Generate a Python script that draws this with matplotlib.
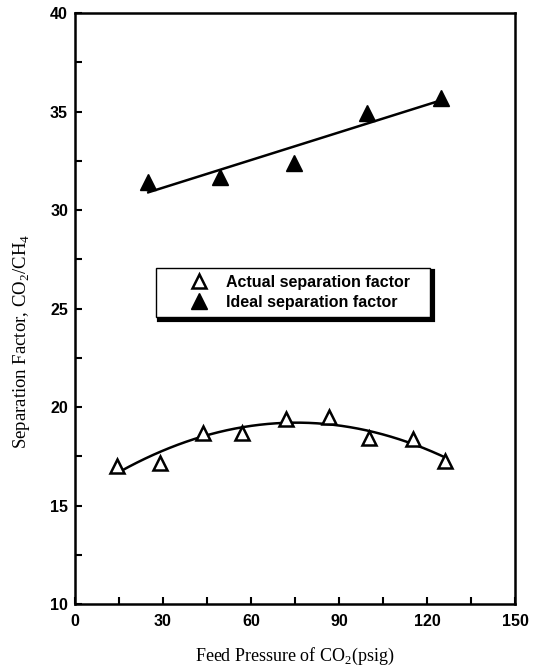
import numpy as np
import matplotlib
matplotlib.use("Agg")
import matplotlib.pyplot as plt
from matplotlib.ticker import MultipleLocator

plt.rcParams['mathtext.fontset'] = 'custom'
plt.rcParams['mathtext.rm'] = 'Liberation Serif'

# data
actual_p = [14.4, 29.0, 43.5, 56.8, 71.9, 86.4, 100.3, 115.3, 126.2]
actual_sf = [17.0, 17.15, 18.7, 18.7, 19.37, 19.5, 18.44, 18.36, 17.27]

ideal_p = [24.8, 49.4, 74.7, 99.4, 124.8]
ideal_sf = [31.44, 31.69, 32.37, 34.94, 35.67]

xticks = [0, 30, 60, 90, 120, 150]
yticks = [10, 15, 20, 25, 30, 35, 40]

fig = plt.figure(figsize=(5.35, 6.68), dpi=100)
ax = fig.add_axes([0.140, 0.0958, 0.823, 0.8847])

# fitted curves (quadratic for actual, linear for ideal)
qa = np.polyfit(actual_p, actual_sf, 2)
xa = np.linspace(15, 126, 200)
ax.plot(xa, np.polyval(qa, xa), color='black', lw=1.8, zorder=2)

li = np.polyfit(ideal_p, ideal_sf, 1)
xi = np.linspace(25, 125, 50)
ax.plot(xi, np.polyval(li, xi), color='black', lw=1.8, zorder=2)

ax.plot(actual_p, actual_sf, linestyle='none', marker='^', ms=10,
        mfc='white', mec='black', mew=1.8, zorder=3,
        label='Actual separation factor')
ax.plot(ideal_p, ideal_sf, linestyle='none', marker='^', ms=11,
        mfc='black', mec='black', zorder=3,
        label='Ideal separation factor')

ax.set_xlim(0, 150)
ax.set_ylim(10, 40)
ax.set_xticks(xticks)
ax.set_yticks(yticks)
ax.xaxis.set_minor_locator(MultipleLocator(15))
ax.yaxis.set_minor_locator(MultipleLocator(2.5))
ax.tick_params(which='both', direction='in', length=5, width=1.5,
               top=False, right=False)
for lab in ax.get_xticklabels() + ax.get_yticklabels():
    lab.set_fontfamily('Liberation Sans')
    lab.set_fontweight('bold')
    lab.set_fontsize(11.5)
ax.tick_params(axis='x', pad=7)
ax.tick_params(axis='y', pad=5)

for sp in ax.spines.values():
    sp.set_linewidth(1.8)

ax.set_xlabel('Feed Pressure of CO$_2$(psig)', family='Liberation Serif',
              fontsize=13, labelpad=12)
ax.set_ylabel('Separation Factor, CO$_2$/CH$_4$', family='Liberation Serif',
              fontsize=13.5, labelpad=12)
ax.yaxis.set_label_coords(-0.097, 0.445)

leg = ax.legend(loc='upper left', bbox_to_anchor=(0.184, 0.4839, 0.623, 0.085),
                mode='expand', frameon=True, fancybox=False,
                shadow={'color': 'black', 'alpha': 1, 'linewidth': 3},
                prop={'family': 'Liberation Sans', 'weight': 'bold', 'size': 11.5},
                handlelength=4.5, handletextpad=-0.55, borderpad=0.45,
                labelspacing=0.3, borderaxespad=0)
leg.get_frame().set_edgecolor('black')
leg.get_frame().set_linewidth(1.0)

fig.savefig('out.png', dpi=100)
